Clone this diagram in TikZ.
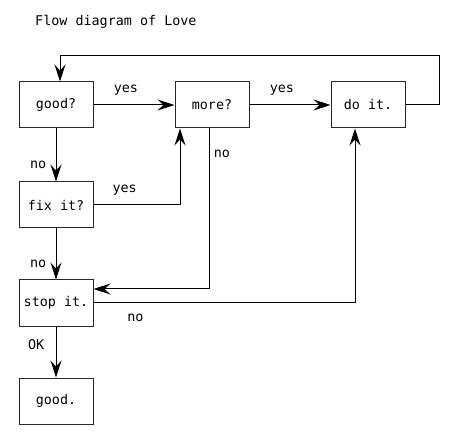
\documentclass[tikz,border=0pt]{standalone}
\usepackage{fontspec}
\setmainfont{DejaVu Sans Mono}
\usetikzlibrary{shapes.geometric, arrows.meta}
\tikzstyle{box} = [rectangle, draw=black!85, line width=1pt, text centered, minimum width=74pt, minimum height=46pt, font=\fontsize{13.4}{15}\selectfont]
\tikzstyle{arrow} = [line width=1pt,->,>={Stealth[length=17pt,width=11pt,inset=6pt]}]
\tikzstyle{lbl} = [font=\fontsize{13.4}{15}\selectfont]

\begin{document}
\begin{tikzpicture}[node distance=98pt]
			\useasboundingbox (0,0) rectangle (460pt,-443pt);
			% Nodes
			\node (title) [lbl, anchor=base west, inner sep=0pt] at (35pt,-26pt) {Flow diagram of Love};
			\node (good) [box] at (56pt,-105pt) {good?};
			\node (more) [box, right of=good, xshift=58pt] {more?};
			\node (doit) [box, right of=more, xshift=58pt] {do it.};
			\node (fix) [box, below of=good, yshift=-2pt] {fix it?};
			\node (stop) [box, below of=fix] {stop it.};
			\node (done) [box, below of=stop] {good.};

			% Arrows
			\draw [arrow] (good) -- (more) node[lbl, pos=0.4, above=6pt] {yes};
			\draw [arrow] (more) -- (doit) node[lbl, pos=0.4, above=6pt] {yes};
			\draw [arrow] (doit.east) -- ++(34pt,0) -- ++(0,49pt) -| ([xshift=4pt]good.north);
			\draw [arrow] (good) -- (fix) node[lbl, pos=0.68, left=6pt] {no};
			\draw [arrow] (fix.east) -| ([xshift=-32pt]more.south) node[lbl, pos=0.18, above=6pt] {yes};
			\draw [arrow] ([xshift=-3pt]more.south) |- ([yshift=14pt]stop.east) node[lbl, pos=0.08, right=1pt] {no};
			\draw [arrow] (fix) -- (stop) node[lbl, pos=0.7, left=6pt] {no};
			\draw [arrow] (stop.east) -| ([xshift=-13pt]doit.south) node[lbl, pos=0.08, below=7pt] {no};
			\draw [arrow] (stop) -- (done) node[lbl, pos=0.36, left=8pt] {OK};
		\end{tikzpicture}
\end{document}
